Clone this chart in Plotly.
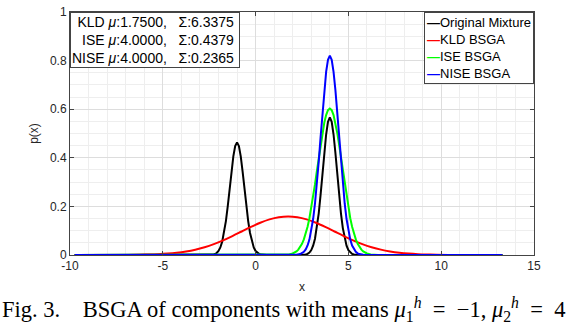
import plotly.graph_objects as go

# --- data -----------------------------------------------------------------
MIX_X = [-9.75,
         -2.6, -2.5, -2.4, -2.3, -2.2, -2.1, -2.0, -1.9, -1.8, -1.7, -1.6,
         -1.5, -1.4, -1.3, -1.2, -1.1, -1.0, -0.9, -0.8, -0.7, -0.6, -0.5,
         -0.4, -0.3, -0.2, -0.1, 0.0, 0.1, 0.2, 0.3, 0.4, 0.5, 0.6,
         2.4, 2.5, 2.6, 2.7, 2.8, 2.9, 3.0, 3.1, 3.2, 3.3, 3.4, 3.5, 3.6,
         3.7, 3.8, 3.9, 4.0, 4.1, 4.2, 4.3, 4.4, 4.5, 4.6, 4.7, 4.8, 4.9,
         5.0, 5.1, 5.2, 5.3, 5.4, 5.5, 5.6,
         13.3]
MIX_Y = [0.0,
         0.0001, 0.0003, 0.0007, 0.0017, 0.0038, 0.0082, 0.0165, 0.0311,
         0.0549, 0.0905, 0.1396, 0.2014, 0.2719, 0.3435, 0.4057, 0.4482,
         0.4635, 0.4482, 0.4057, 0.3435, 0.2719, 0.2014, 0.1396, 0.0905,
         0.0549, 0.0311, 0.0165, 0.0082, 0.0038, 0.0017, 0.0007, 0.0003,
         0.0001,
         0.0001, 0.0003, 0.0008, 0.0020, 0.0047, 0.0100, 0.0202, 0.0381,
         0.0671, 0.1106, 0.1706, 0.2462, 0.3323, 0.4198, 0.4958, 0.5478,
         0.5665, 0.5478, 0.4958, 0.4198, 0.3323, 0.2462, 0.1706, 0.1106,
         0.0671, 0.0381, 0.0202, 0.0100, 0.0047, 0.0020, 0.0008, 0.0003,
         0.0001,
         0.0]

KLD_X = [-9.75, -8.25, -7.25, -6.25, -5.75, -5.25, -4.75, -4.25, -3.75,
         -3.25, -2.75, -2.25, -1.75, -1.25, -0.75, -0.25, 0.25, 0.75, 1.25,
         1.75, 2.25, 2.75, 3.25, 3.75, 4.25, 4.75, 5.25, 5.75, 6.25, 6.75,
         7.25, 7.75, 8.25, 8.75, 9.25, 9.75, 10.75, 11.75, 13.3]
KLD_Y = [0.0, 0.0001, 0.0003, 0.0010, 0.0019, 0.0033, 0.0057, 0.0093,
         0.0146, 0.0220, 0.0321, 0.0449, 0.0603, 0.0779, 0.0968, 0.1156,
         0.1327, 0.1465, 0.1554, 0.1585, 0.1554, 0.1465, 0.1327, 0.1156,
         0.0968, 0.0779, 0.0603, 0.0449, 0.0321, 0.0220, 0.0146, 0.0093,
         0.0057, 0.0033, 0.0019, 0.0010, 0.0003, 0.0001, 0.0]

ISE_X = [-9.75, 1.0, 1.4, 1.6, 1.8,
         2.0, 2.1, 2.2, 2.3, 2.4, 2.5, 2.6, 2.7, 2.8, 2.9, 3.0, 3.1, 3.2,
         3.3, 3.4, 3.5, 3.6, 3.7, 3.8, 3.9, 4.0, 4.1, 4.2, 4.3, 4.4, 4.5,
         4.6, 4.7, 4.8, 4.9, 5.0, 5.1, 5.2, 5.3, 5.4, 5.5, 5.6, 5.7, 5.8,
         5.9, 6.0,
         6.2, 6.4, 6.6, 7.0, 13.3]
ISE_Y = [0.0, 0.0, 0.0003, 0.0008, 0.0024,
         0.0063, 0.0098, 0.0149, 0.0222, 0.0324, 0.0462, 0.0643, 0.0875,
         0.1164, 0.1514, 0.1924, 0.2391, 0.2903, 0.3446, 0.3997, 0.4532,
         0.5022, 0.5440, 0.5760, 0.5960, 0.6029, 0.5960, 0.5760, 0.5440,
         0.5022, 0.4532, 0.3997, 0.3446, 0.2903, 0.2391, 0.1924, 0.1514,
         0.1164, 0.0875, 0.0643, 0.0462, 0.0324, 0.0222, 0.0149, 0.0098,
         0.0063,
         0.0024, 0.0008, 0.0003, 0.0, 0.0]

NISE_X = [-9.75, 1.6, 2.0, 2.2,
          2.4, 2.5, 2.6, 2.7, 2.8, 2.9, 3.0, 3.1, 3.2, 3.3, 3.4, 3.5, 3.6,
          3.7, 3.8, 3.9, 4.0, 4.1, 4.2, 4.3, 4.4, 4.5, 4.6, 4.7, 4.8, 4.9,
          5.0, 5.1, 5.2, 5.3, 5.4, 5.5, 5.6,
          5.8, 6.0, 6.4, 13.3]
NISE_Y = [0.0, 0.0, 0.0002, 0.0009,
          0.0037, 0.0070, 0.0130, 0.0230, 0.0391, 0.0635, 0.0990, 0.1480,
          0.2120, 0.2911, 0.3832, 0.4836, 0.5849, 0.6781, 0.7538, 0.8032,
          0.8203, 0.8032, 0.7538, 0.6781, 0.5849, 0.4836, 0.3832, 0.2911,
          0.2120, 0.1480, 0.0990, 0.0635, 0.0391, 0.0230, 0.0130, 0.0070,
          0.0037,
          0.0009, 0.0002, 0.0, 0.0]

METHODS = ["KLD", "ISE", "NISE"]
MEANS = ["1.7500", "4.0000", "4.0000"]
VARIANCES = ["6.3375", "0.4379", "0.2365"]

X_TICKS = [-10, -5, 0, 5, 10, 15]
X_TICK_TEXT = ["-10", "-5", "0", "5", "10", "15"]
Y_TICKS = [0, 0.2, 0.4, 0.6, 0.8, 1]
Y_TICK_TEXT = ["0", "0.2", "0.4", "0.6", "0.8", "1"]

SANS = "Liberation Sans, Arial, sans-serif"
SERIF = "Liberation Serif, Times New Roman, serif"
AXIS_COL = "#444444"

fig = go.Figure()
series = [
    ("Original Mixture", MIX_X, MIX_Y, "black", "linear"),
    ("KLD BSGA", KLD_X, KLD_Y, "red", "spline"),
    ("ISE BSGA", ISE_X, ISE_Y, "lime", "linear"),
    ("NISE BSGA", NISE_X, NISE_Y, "blue", "linear"),
]
for name, xs, ys, col, shape in series:
    fig.add_trace(go.Scatter(x=xs, y=ys, mode="lines", name=name,
                             line=dict(color=col, width=2, shape=shape)))

axis_common = dict(
    showline=True, linecolor=AXIS_COL, linewidth=1, mirror="ticks",
    ticks="inside", ticklen=4, tickcolor=AXIS_COL,
    showgrid=True, gridcolor="#dddddd", gridwidth=1, zeroline=False,
    tickfont=dict(family=SANS, size=12, color="#262626"),
    ticklabeloverflow="allow",
)
fig.update_xaxes(range=[-10, 15], tickvals=X_TICKS, ticktext=X_TICK_TEXT,
                 minor=dict(dtick=1, showgrid=True, gridcolor="#eeeeee"),
                 title=dict(text="x", font=dict(family=SANS, size=12, color="#262626"),
                            standoff=10),
                 **axis_common)
fig.update_yaxes(range=[0, 1], tickvals=Y_TICKS, ticktext=Y_TICK_TEXT,
                 minor=dict(dtick=0.05, showgrid=True, gridcolor="#eeeeee"),
                 title=dict(text="p(x)", font=dict(family=SANS, size=12, color="#262626"),
                            standoff=8),
                 **axis_common)

# parameter box (top left)
box_lines = [
    f"{m} <i>μ</i>:{mu},\u00a0\u00a0\u00a0Σ:{v}\u00a0"
    for m, mu, v in zip(METHODS, MEANS, VARIANCES)
]
fig.add_annotation(
    text="<br>".join(box_lines), xref="paper", yref="paper", x=0, y=1,
    xanchor="left", yanchor="top", align="right", showarrow=False,
    font=dict(family=SANS, size=14, color="#000000"),
    bordercolor=AXIS_COL, borderwidth=1, borderpad=1, bgcolor="white",
)

# compact legend box (top right), matlab style
legend_lines = [
    f'<span style="color:{col}"><b>—</b></span>{name}'
    for name, _, _, col, _ in series
]
fig.add_annotation(
    text="<br>".join(legend_lines), xref="paper", yref="paper", x=1, y=1,
    xanchor="right", yanchor="top", align="left", showarrow=False,
    font=dict(family=SANS, size=13, color="#000000"),
    bordercolor=AXIS_COL, borderwidth=1, borderpad=2, bgcolor="white",
)

sp = "\u2002"
caption = ("Fig. 3." + "\u00a0" * 4 + "BSGA of components with means "
           f"<i>μ</i><sub>1</sub><sup><i>h</i></sup>{sp}={sp}−1, "
           f"<i>μ</i><sub>2</sub><sup><i>h</i></sup>{sp}={sp}4")
fig.add_annotation(
    text=caption, xref="paper", yref="paper", x=-70 / 464, y=-0.225,
    xanchor="left", yanchor="middle", showarrow=False,
    font=dict(family=SERIF, size=22.5, color="#000000"),
)

fig.update_layout(
    width=576, height=324,
    margin=dict(l=70, r=42, t=5, b=69),
    plot_bgcolor="white", paper_bgcolor="white",
    showlegend=False,
)

fig.write_html("out.html", config={"displayModeBar": False},
               post_script="document.body.style.margin='0';")
